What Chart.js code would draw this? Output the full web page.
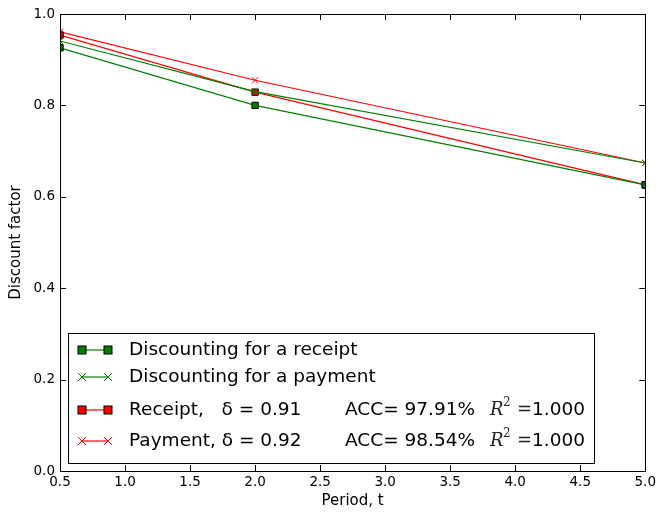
<!DOCTYPE html>
<html>
<head>
<meta charset="utf-8">
<script src="https://cdn.jsdelivr.net/npm/chart.js@4.4.1/dist/chart.umd.min.js"></script>
<style>
  html, body { margin: 0; padding: 0; background: #fff; }
  #wrap { width: 659px; height: 514px; }
</style>
</head>
<body>
<div id="wrap"><canvas id="chart" width="659" height="514"></canvas></div>
<script>
const periods = [0.5, 2, 5];
const receiptObs = [0.926, 0.800, 0.626];
const paymentObs = [0.941, 0.830, 0.674];
const receiptFit = [0.954, 0.829, 0.626];
const paymentFit = [0.961, 0.855, 0.674];

const xTicks = [0.5, 1.0, 1.5, 2.0, 2.5, 3.0, 3.5, 4.0, 4.5, 5.0];
const yTicks = [0.0, 0.2, 0.4, 0.6, 0.8, 1.0];

const legendNames = ['Discounting for a receipt', 'Discounting for a payment', 'Receipt,   \u03b4 = 0.91', 'Payment, \u03b4 = 0.92'];
const legendAcc = [null, null, 'ACC= 97.91%', 'ACC= 98.54%'];
const legendR2 = [null, null, '1.000', '1.000'];

const GREEN = '#008000';
const RED = '#ff0000';
const FONT = 'DejaVu Sans';

function series(vals) {
  return periods.map((p, i) => ({ x: p, y: vals[i] }));
}

const datasets = [
  { data: series(receiptObs), borderColor: GREEN, backgroundColor: GREEN, pointStyle: 'rect', pointRadius: 4.5 },
  { data: series(paymentObs), borderColor: GREEN, backgroundColor: GREEN, pointStyle: 'crossRot', pointRadius: 4.5 },
  { data: series(receiptFit), borderColor: RED, backgroundColor: RED, pointStyle: 'rect', pointRadius: 4.5 },
  { data: series(paymentFit), borderColor: RED, backgroundColor: RED, pointStyle: 'crossRot', pointRadius: 4.5 },
].map(d => Object.assign(d, {
  showLine: true, borderWidth: 1.2, pointBorderWidth: 1,
  pointBorderColor: d.pointStyle === 'rect' ? '#000' : d.borderColor,
  tension: 0, clip: 0
}));

// ticks drawn inward on all four sides, matplotlib classic style
const innerTicks = {
  id: 'innerTicks',
  afterDraw(chart) {
    const { ctx, chartArea: a, scales } = chart;
    ctx.save();
    ctx.strokeStyle = '#000';
    ctx.lineWidth = 1;
    ctx.beginPath();
    xTicks.forEach(v => {
      const x = Math.round(scales.x.getPixelForValue(v)) + 0.5;
      ctx.moveTo(x, a.bottom); ctx.lineTo(x, a.bottom - 6);
      ctx.moveTo(x, a.top); ctx.lineTo(x, a.top + 6);
    });
    yTicks.forEach(v => {
      const y = Math.round(scales.y.getPixelForValue(v)) + 0.5;
      ctx.moveTo(a.left, y); ctx.lineTo(a.left + 6, y);
      ctx.moveTo(a.right, y); ctx.lineTo(a.right - 6, y);
    });
    ctx.stroke();
    ctx.strokeRect(Math.round(a.left) + 0.5, Math.round(a.top) + 0.5, Math.round(a.right - a.left), Math.round(a.bottom - a.top));
    ctx.restore();
  }
};

function drawMarker(ctx, ds, x, y) {
  ctx.fillStyle = ds.backgroundColor;
  ctx.strokeStyle = ds.pointBorderColor;
  ctx.lineWidth = 1;
  if (ds.pointStyle === 'rect') {
    ctx.fillRect(x - 4, y - 4, 8, 8);
    ctx.strokeRect(x - 4, y - 4, 8, 8);
  } else {
    ctx.strokeStyle = ds.borderColor;
    ctx.beginPath();
    ctx.moveTo(x - 4, y - 4); ctx.lineTo(x + 4, y + 4);
    ctx.moveTo(x - 4, y + 4); ctx.lineTo(x + 4, y - 4);
    ctx.stroke();
  }
}

const boxLegend = {
  id: 'boxLegend',
  afterDraw(chart) {
    const ctx = chart.ctx;
    const left = 68.5, top = 333.5, right = 594.5, bottom = 463.5;
    const rows = [350, 377, 410, 441];
    ctx.save();
    ctx.fillStyle = '#fff';
    ctx.fillRect(left, top, right - left, bottom - top);
    ctx.strokeStyle = '#000';
    ctx.lineWidth = 1;
    ctx.strokeRect(left, top, right - left, bottom - top);
    chart.data.datasets.forEach((ds, i) => {
      const y = rows[i];
      ctx.strokeStyle = ds.borderColor;
      ctx.lineWidth = 1.2;
      ctx.beginPath();
      ctx.moveTo(82, y); ctx.lineTo(108, y);
      ctx.stroke();
      drawMarker(ctx, ds, 82, y);
      drawMarker(ctx, ds, 108, y);
      ctx.fillStyle = '#000';
      ctx.textBaseline = 'middle';
      ctx.font = '18.5px "' + FONT + '"';
      ctx.fillText(legendNames[i], 129, y);
      if (legendAcc[i]) {
        ctx.fillText(legendAcc[i], 345, y);
        ctx.fillStyle = '#222';
        ctx.font = 'italic 18px "DejaVu Serif"';
        ctx.fillText('R', 490, y);
        ctx.font = '12px "DejaVu Serif"';
        ctx.fillText('2', 503, y - 7);
        ctx.font = '18px "DejaVu Serif"';
        ctx.fillText('=', 517, y);
        ctx.fillStyle = '#000';
        ctx.font = '18.5px "' + FONT + '"';
        ctx.fillText(legendR2[i], 532, y);
      }
    });
    ctx.restore();
  }
};

new Chart(document.getElementById('chart'), {
  type: 'scatter',
  data: { datasets },
  plugins: [innerTicks, boxLegend],
  options: {
    responsive: false,
    animation: false,
    layout: { padding: { top: 14, right: 11, left: 3, bottom: 0 } },
    plugins: { legend: { display: false }, tooltip: { enabled: false } },
    scales: {
      x: {
        type: 'linear', min: 0.5, max: 5.0,
        afterBuildTicks: s => { s.ticks = xTicks.map(v => ({ value: v })); },
        afterFit: s => { s.height = 43; },
        grid: { display: false, drawTicks: false },
        border: { display: false },
        ticks: { color: '#000', font: { family: FONT, size: 13.5 }, padding: 3, maxRotation: 0,
                 callback: v => v.toFixed(1) },
        title: { display: true, text: 'Period, t', color: '#000', font: { family: FONT, size: 15 }, padding: { top: 1 } }
      },
      y: {
        type: 'linear', min: 0, max: 1.0,
        afterBuildTicks: s => { s.ticks = yTicks.map(v => ({ value: v })); },
        afterFit: s => { s.width = 57; },
        grid: { display: false, drawTicks: false },
        border: { display: false },
        ticks: { color: '#000', font: { family: FONT, size: 13.5 }, padding: 5,
                 callback: v => v.toFixed(1) },
        title: { display: true, text: 'Discount factor', color: '#000', font: { family: FONT, size: 15 }, padding: { bottom: 3 } }
      }
    }
  }
});
</script>
</body>
</html>
